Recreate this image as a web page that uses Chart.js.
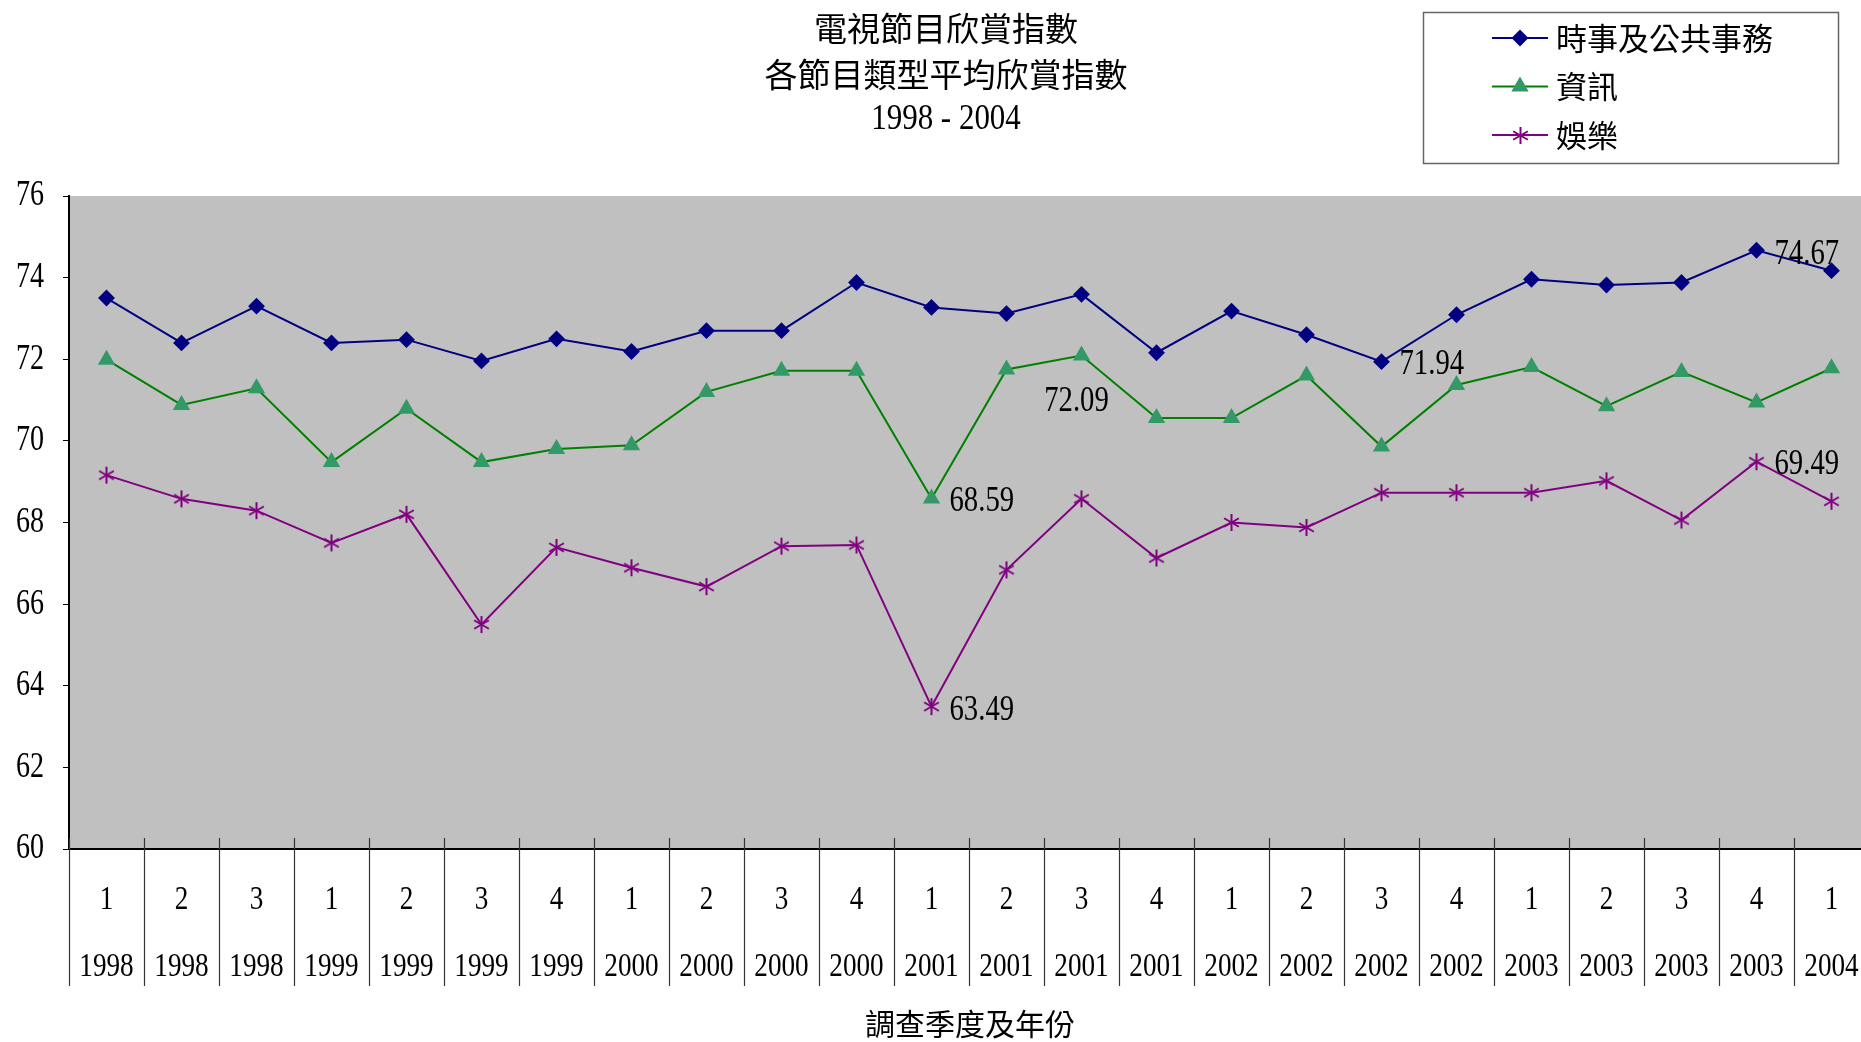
<!DOCTYPE html>
<html>
<head>
<meta charset="utf-8">
<script src="https://cdn.jsdelivr.net/npm/chart.js@4.4.1/dist/chart.umd.min.js"></script>
<style>
  html, body { margin: 0; padding: 0; background: #fff; overflow: hidden; }
  /* the plot runs slightly past the right edge of the window, as in the original */
  #wrap { width: 1869px; height: 1042px; position: relative; }
</style>
</head>
<body>
<div id="wrap"><canvas id="tvChart"></canvas></div>
<script>
// Quarter / year labels
const quarters = ['1','2','3','1','2','3','4','1','2','3','4','1','2','3','4','1','2','3','4','1','2','3','4','1'];
const years = ['1998','1998','1998','1999','1999','1999','1999','2000','2000','2000','2000',
               '2001','2001','2001','2001','2002','2002','2002','2002','2003','2003','2003','2003','2004'];

// Series values
const publicAffairs = [73.5, 72.4, 73.3, 72.4, 72.48, 71.96, 72.5, 72.19, 72.7, 72.7, 73.88, 73.27,
                       73.12, 73.59, 72.16, 73.18, 72.6, 71.94, 73.09, 73.96, 73.82, 73.88, 74.67, 74.17];
const information = [71.99, 70.88, 71.29, 69.48, 70.79, 69.48, 69.8, 69.89, 71.2, 71.72, 71.72, 68.59,
                     71.75, 72.09, 70.56, 70.56, 71.6, 69.86, 71.37, 71.81, 70.85, 71.69, 70.94, 71.78];
const entertainment = [69.16, 68.58, 68.29, 67.5, 68.2, 65.5, 67.39, 66.89, 66.43, 67.42, 67.45, 63.49,
                       66.84, 68.58, 67.13, 68.0, 67.88, 68.73, 68.73, 68.73, 69.02, 68.06, 69.49, 68.52];

const seriesNames = ['時事及公共事務', '資訊', '娛樂'];
const yTicks = [60, 62, 64, 66, 68, 70, 72, 74, 76];

// which points carry a value label: [dataset, index, dx, dy, align]
const valueLabels = [
    [0, 17, 18, 3, 'left'],
    [0, 22, 18, 5, 'left'],
    [1, 11, 18, 3, 'left'],
    [1, 13, -5, 46, 'center'],
    [2, 11, 18, 4, 'left'],
    [2, 22, 18, 3, 'left']
];

const NUM_FONT = "'Liberation Serif', 'Times New Roman', serif";
const CJK_FONT = "'Noto Sans CJK TC', 'Noto Sans CJK SC', sans-serif";

// six-armed asterisk marker for the entertainment line
function makeStar(size, color) {
    const c = document.createElement('canvas');
    c.width = size; c.height = size;
    const g = c.getContext('2d');
    const r = size / 2 - 1;
    g.strokeStyle = color;
    g.lineWidth = 2;
    g.translate(size / 2, size / 2);
    [90, 30, 150].forEach(a => {
        const rad = a * Math.PI / 180;
        g.beginPath();
        g.moveTo(-r * Math.cos(rad), -r * Math.sin(rad));
        g.lineTo(r * Math.cos(rad), r * Math.sin(rad));
        g.stroke();
    });
    return c;
}
const starImg = makeStar(19, '#800080');

function drawText(ctx, str, x, y, size, sx, align, family) {
    ctx.save();
    ctx.translate(x, y);
    ctx.scale(sx, 1);
    ctx.font = size + 'px ' + family;
    ctx.fillStyle = '#000';
    ctx.textAlign = align;
    ctx.textBaseline = 'middle';
    ctx.fillText(str, 0, 0);
    ctx.restore();
}

// grey plot area
const plotBackground = {
    id: 'plotBackground',
    beforeDraw(chart) {
        const { ctx, chartArea: a } = chart;
        ctx.save();
        ctx.fillStyle = '#c0c0c0';
        ctx.fillRect(a.left, a.top, a.right - a.left, a.bottom - a.top);
        ctx.restore();
    }
};

// titles, axes text, category table, legend, value labels
const decorations = {
    id: 'decorations',
    afterDraw(chart) {
        const { ctx, chartArea: a } = chart;
        const xs = chart.scales.x, ys = chart.scales.y;

        // title
        drawText(ctx, '電視節目欣賞指數', 946, 28, 33, 1, 'center', CJK_FONT);
        drawText(ctx, '各節目類型平均欣賞指數', 946, 74, 33, 1, 'center', CJK_FONT);
        drawText(ctx, '1998 - 2004', 946, 120, 36, 0.86, 'center', NUM_FONT);

        // y tick labels
        yTicks.forEach(v => {
            drawText(ctx, String(v), 44, ys.getPixelForValue(v), 36, 0.78, 'right', NUM_FONT);
        });

        // category separators and labels
        const step = xs.getPixelForValue(1) - xs.getPixelForValue(0);
        ctx.save();
        ctx.strokeStyle = '#333';
        ctx.lineWidth = 1.2;
        for (let i = 0; i < quarters.length; i++) {
            const x = Math.round(xs.getPixelForValue(i) - step / 2) + 0.5;
            ctx.beginPath();
            ctx.moveTo(x, a.bottom - 11);
            ctx.lineTo(x, a.bottom + 137);
            ctx.stroke();
        }
        ctx.restore();
        quarters.forEach((q, i) => {
            const x = xs.getPixelForValue(i);
            drawText(ctx, q, x, a.bottom + 51, 34, 0.8, 'center', NUM_FONT);
            drawText(ctx, years[i], x, a.bottom + 118, 34, 0.8, 'center', NUM_FONT);
        });

        // x axis title
        drawText(ctx, '調查季度及年份', 970, 1024, 30, 1, 'center', CJK_FONT);

        // value labels
        valueLabels.forEach(([d, i, dx, dy, align]) => {
            const pt = chart.getDatasetMeta(d).data[i];
            const v = chart.data.datasets[d].data[i];
            drawText(ctx, v.toFixed(2), pt.x + dx, pt.y + dy, 35, 0.82, align, NUM_FONT);
        });

        // legend
        ctx.save();
        ctx.fillStyle = '#fff';
        ctx.fillRect(1423, 12, 416, 152);
        ctx.strokeStyle = '#666';
        ctx.lineWidth = 1.5;
        ctx.strokeRect(1423.5, 12.5, 415, 151);
        chart.data.datasets.forEach((ds, k) => {
            const y = 38 + k * 48.5;
            ctx.strokeStyle = ds.borderColor;
            ctx.lineWidth = 2;
            ctx.beginPath();
            ctx.moveTo(1492, y);
            ctx.lineTo(1548, y);
            ctx.stroke();
            if (ds.pointStyle instanceof HTMLCanvasElement) {
                ctx.drawImage(ds.pointStyle, 1520 - 9, y - 9);
            } else {
                ctx.fillStyle = ds.pointBackgroundColor;
                ctx.strokeStyle = ds.pointBorderColor;
                Chart.helpers.drawPoint(ctx, { pointStyle: ds.pointStyle, radius: ds.pointRadius, rotation: 0, borderWidth: 1 }, 1520, y);
            }
            drawText(ctx, seriesNames[k], 1556, y, 31, 1, 'left', CJK_FONT);
        });
        ctx.restore();
    }
};

const ctx = document.getElementById('tvChart').getContext('2d');
new Chart(ctx, {
    type: 'line',
    data: {
        labels: quarters.map((q, i) => q + ' ' + years[i]),
        datasets: [
            { label: seriesNames[0], data: publicAffairs, borderColor: '#000080', borderWidth: 2,
              pointStyle: 'rectRot', pointRadius: 7, pointBackgroundColor: '#000080', pointBorderColor: '#000080' },
            { label: seriesNames[1], data: information, borderColor: '#008000', borderWidth: 2,
              pointStyle: 'triangle', pointRadius: 8, pointBackgroundColor: '#339966', pointBorderColor: '#339966' },
            { label: seriesNames[2], data: entertainment, borderColor: '#800080', borderWidth: 2,
              pointStyle: starImg, pointRadius: 9 }
        ]
    },
    options: {
        responsive: true,
        maintainAspectRatio: false,
        animation: false,
        layout: { autoPadding: false, padding: { top: 196, right: 0, left: 0, bottom: 0 } },
        plugins: { legend: { display: false }, title: { display: false }, tooltip: { enabled: false } },
        elements: { line: { tension: 0 } },
        scales: {
            x: {
                offset: true,
                grid: { display: false },
                ticks: { display: false },
                border: { color: '#000', width: 2 },
                afterFit: s => { s.height = 193; }
            },
            y: {
                min: 60,
                max: 76,
                ticks: { display: false, stepSize: 2 },
                grid: { drawOnChartArea: false, drawTicks: true, tickLength: 6, color: '#000' },
                border: { color: '#000', width: 2 },
                afterFit: s => { s.width = 69; }
            }
        }
    },
    plugins: [plotBackground, decorations]
});
</script>
</body>
</html>
